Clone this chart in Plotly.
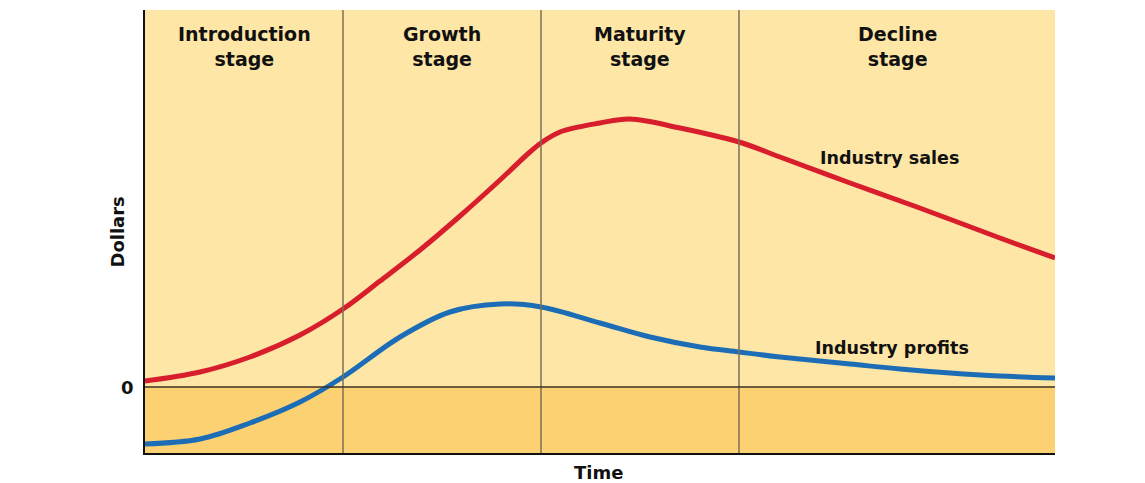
import plotly.graph_objects as go

# Time in stage units (each stage = 1 unit), dollars in arbitrary units
stage_names = ["Introduction<br>stage", "Growth<br>stage", "Maturity<br>stage", "Decline<br>stage"]
stage_bounds = [0, 1, 2, 3, 4.596]

sales_t = [0.0, 0.278, 0.53, 0.783, 1.0, 1.187, 1.389, 1.591, 1.793, 1.944, 2.0, 2.096, 2.298, 2.449, 2.702, 3.0, 3.207, 3.561, 3.899, 4.318, 4.596]
sales_v = [0.06, 0.15, 0.30, 0.52, 0.78, 1.06, 1.37, 1.71, 2.07, 2.35, 2.44, 2.55, 2.64, 2.68, 2.59, 2.45, 2.30, 2.04, 1.80, 1.49, 1.29]

profit_t = [0.0, 0.278, 0.53, 0.783, 1.0, 1.288, 1.54, 1.793, 2.0, 2.298, 2.551, 2.803, 3.0, 3.207, 3.561, 3.813, 4.066, 4.318, 4.596]
profit_v = [-0.57, -0.52, -0.36, -0.15, 0.10, 0.50, 0.75, 0.83, 0.80, 0.64, 0.50, 0.40, 0.35, 0.30, 0.23, 0.18, 0.14, 0.11, 0.09]

y_min, y_max = -0.66, 3.77
FONT = "DejaVu Sans, Arial"

fig = go.Figure()

shapes = [
    dict(type="rect", xref="x", yref="y", x0=0, x1=stage_bounds[-1], y0=0, y1=y_max,
         fillcolor="#FDE6A6", line_width=0, layer="below"),
    dict(type="rect", xref="x", yref="y", x0=0, x1=stage_bounds[-1], y0=y_min, y1=0,
         fillcolor="#FCD172", line_width=0, layer="below"),
]
for b in stage_bounds[1:-1]:
    shapes.append(dict(type="line", xref="x", yref="y", x0=b, x1=b, y0=y_min, y1=y_max,
                       line=dict(color="#7d6f57", width=1.5)))
shapes.append(dict(type="line", xref="x", yref="y", x0=0, x1=stage_bounds[-1], y0=0, y1=0,
                   line=dict(color="#3a3020", width=1.5)))

fig.add_trace(go.Scatter(x=sales_t, y=sales_v, mode="lines",
                         line=dict(color="#D81E2C", width=5, shape="spline", smoothing=1.0),
                         name="Industry sales", showlegend=False, hoverinfo="skip"))
fig.add_trace(go.Scatter(x=profit_t, y=profit_v, mode="lines",
                         line=dict(color="#1C6DB6", width=5, shape="spline", smoothing=1.0),
                         name="Industry profits", showlegend=False, hoverinfo="skip"))

annotations = []
for i, name in enumerate(stage_names):
    cx = (stage_bounds[i] + stage_bounds[i + 1]) / 2
    annotations.append(dict(x=cx, y=3.405, xref="x", yref="y", text="<b>" + name + "</b>", showarrow=False,
                            font=dict(family=FONT, size=19, color="#111111"), yanchor="middle", align="center"))

annotations.append(dict(x=3.40, y=2.29, xref="x", yref="y", text="<b>Industry sales</b>", showarrow=False,
                        xanchor="left", font=dict(family=FONT, size=17.5, color="#111111")))
annotations.append(dict(x=3.375, y=0.39, xref="x", yref="y", text="<b>Industry profits</b>", showarrow=False,
                        xanchor="left", font=dict(family=FONT, size=17.5, color="#111111")))
annotations.append(dict(x=0, y=0, xref="paper", yref="y", text="<b>0</b>", showarrow=False, xanchor="right",
                        xshift=-9, font=dict(family=FONT, size=18, color="#111111")))
annotations.append(dict(x=-0.045, y=1.55, xref="paper", yref="y", text="<b>Dollars</b>", showarrow=False,
                        textangle=-90, font=dict(family=FONT, size=18, color="#111111")))
annotations.append(dict(x=2.29, y=0, xref="x", yref="paper", text="<b>Time</b>", showarrow=False, yanchor="top",
                        yshift=-7, font=dict(family=FONT, size=18, color="#111111")))

fig.update_layout(
    width=1137, height=475,
    margin=dict(l=137, r=90, t=2, b=30),
    paper_bgcolor="white", plot_bgcolor="white",
    shapes=shapes, annotations=annotations,
    xaxis=dict(range=[0, stage_bounds[-1]], showgrid=False, zeroline=False, showticklabels=False, ticks="",
               showline=True, linecolor="#111111", linewidth=2),
    yaxis=dict(range=[y_min, y_max], showgrid=False, zeroline=False, showticklabels=False, ticks="",
               showline=True, linecolor="#111111", linewidth=2),
)

fig.write_html("out.html")
